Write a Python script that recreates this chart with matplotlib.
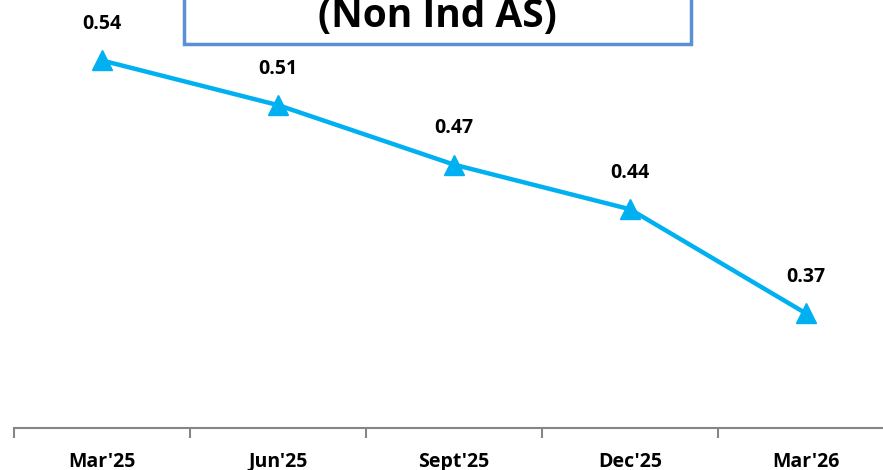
import matplotlib.pyplot as plt
from matplotlib.patches import Rectangle

# data
quarters = ["Mar'25", "Jun'25", "Sept'25", "Dec'25", "Mar'26"]
ratio = [0.54, 0.51, 0.47, 0.44, 0.37]
labels = ["0.54", "0.51", "0.47", "0.44", "0.37"]

plt.rcParams['font.family'] = ['Open Sans', 'DejaVu Sans']

fig = plt.figure(figsize=(8.83, 4.70), dpi=100)
W, H = 883, 470
# axes span 14..894 px horizontally, bottom spine at y=428
ax = fig.add_axes([14 / W, 42 / H, 880 / W, 386 / H])

x = list(range(len(quarters)))
ax.plot(x, ratio, color='#00B0F0', lw=3.2, marker='^', ms=14, zorder=3)
for xi, yi, t in zip(x, ratio, labels):
    ax.annotate(t, (xi, yi), xytext=(0, 19), textcoords='offset points',
                ha='center', va='bottom', fontsize=14, fontweight='bold')

ax.set_xlim(-0.5, 4.5)
ax.set_ylim(0.293, 0.293 + 386 / 1488)
ax.set_yticks([])
ax.set_xticks([-0.5, 0.5, 1.5, 2.5, 3.5, 4.5])
ax.set_xticklabels([])
ax.set_xticks(x, minor=True)
ax.set_xticklabels(quarters, minor=True, fontsize=14, fontweight='bold')
ax.tick_params(axis='x', which='major', length=7, color='#868686', width=1.5, direction='out')
ax.tick_params(axis='x', which='minor', length=0, pad=17)
for s in ['top', 'right', 'left']:
    ax.spines[s].set_visible(False)
ax.spines['bottom'].set_color('#868686')
ax.spines['bottom'].set_linewidth(1.5)

# title box, cut off at the top edge as in the source
fig.patches.append(Rectangle((184 / W, 1 - 44 / H), (691 - 184) / W, 60 / H,
                             transform=fig.transFigure, fill=True, fc='white',
                             ec='#5B8FD6', lw=2.5, zorder=5))
fig.text(437 / W, 1 - 27 / H, "(Non Ind AS)", ha='center', va='baseline',
         fontsize=28, fontweight='bold', zorder=6)

fig.savefig('out.png', dpi=100)
